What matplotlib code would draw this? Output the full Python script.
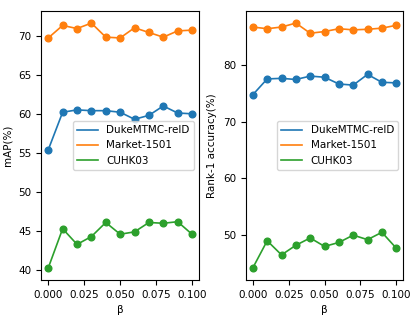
import matplotlib
matplotlib.use("Agg")
import matplotlib.pyplot as plt

beta = [0.0, 0.01, 0.02, 0.03, 0.04, 0.05, 0.06, 0.07, 0.08, 0.09, 0.1]
datasets = ["DukeMTMC-reID", "Market-1501", "CUHK03"]
colors = ["#1f77b4", "#ff7f0e", "#2ca02c"]

# mAP (%)
map_duke = [55.4, 60.2, 60.5, 60.4, 60.4, 60.2, 59.3, 59.8, 61.0, 60.1, 60.0]
map_market = [69.7, 71.3, 70.9, 71.6, 69.8, 69.7, 71.0, 70.4, 69.8, 70.6, 70.7]
map_cuhk = [40.3, 45.3, 43.3, 44.3, 46.1, 44.6, 44.9, 46.1, 46.0, 46.2, 44.6]

# Rank-1 accuracy (%)
r1_duke = [74.8, 77.6, 77.7, 77.5, 78.1, 77.9, 76.7, 76.5, 78.4, 77.0, 76.9]
r1_market = [86.8, 86.5, 86.8, 87.5, 85.7, 86.0, 86.5, 86.3, 86.4, 86.6, 87.1]
r1_cuhk = [44.1, 48.9, 46.4, 48.1, 49.4, 47.9, 48.6, 49.9, 49.1, 50.4, 47.6]

plt.rcParams["font.size"] = 7.5

fig = plt.figure(figsize=(4.15, 3.19), dpi=100)
ax1 = fig.add_axes([0.099, 0.122, 0.381, 0.844])
ax2 = fig.add_axes([0.592, 0.122, 0.380, 0.844])


def draw(ax, series, ylabel):
    for name, vals, c in zip(datasets, series, colors):
        ax.plot(beta, vals, color=c, lw=1.2, label=name)
        ax.plot(beta, vals, "o", color=c, ms=4.8)
    ax.set_xlabel("β")
    ax.set_ylabel(ylabel)
    ax.set_xticks([0.0, 0.025, 0.05, 0.075, 0.1])
    ax.legend(loc="center right")


draw(ax1, [map_duke, map_market, map_cuhk], "mAP(%)")
ax1.set_yticks([40, 45, 50, 55, 60, 65, 70])
draw(ax2, [r1_duke, r1_market, r1_cuhk], "Rank-1 accuracy(%)")

fig.savefig("out.png", dpi=100)
